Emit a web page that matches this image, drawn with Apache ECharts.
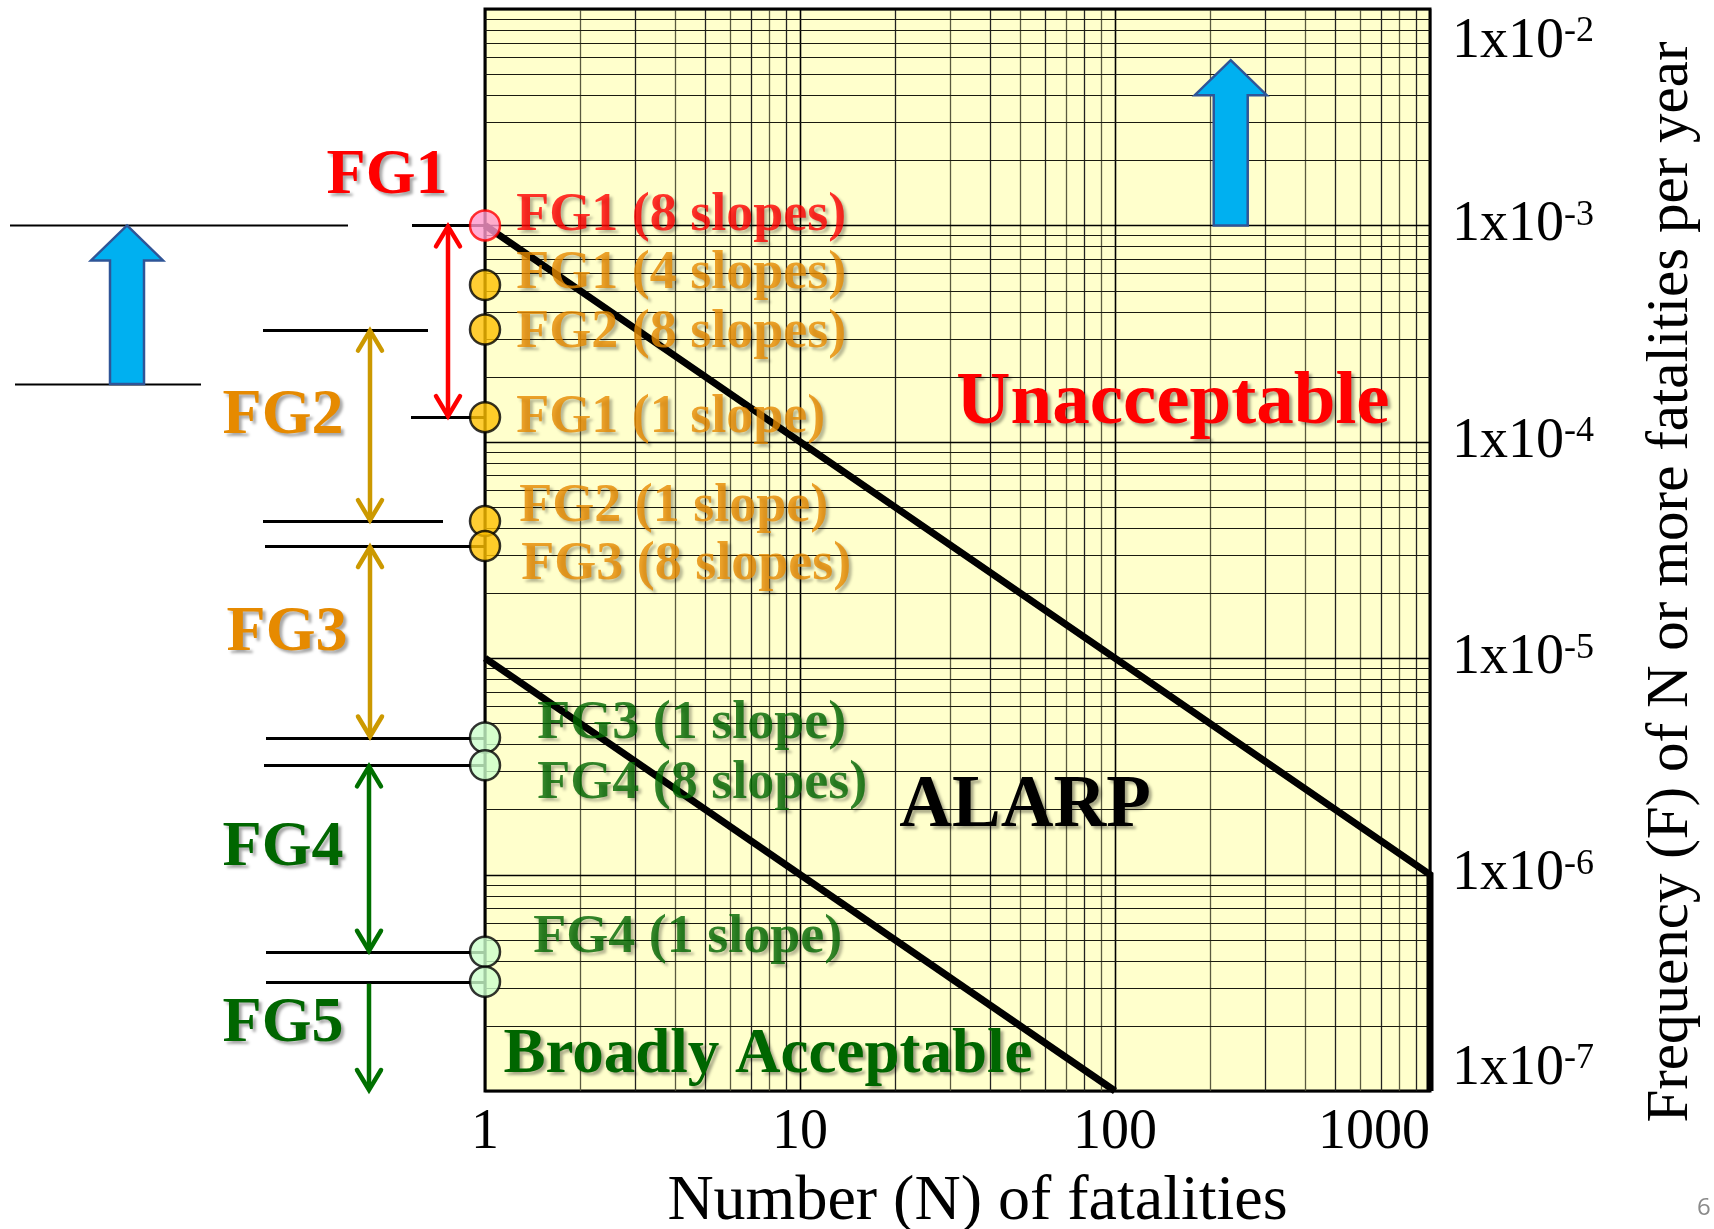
<!DOCTYPE html>
<html><head><meta charset="utf-8">
<script src="https://cdn.jsdelivr.net/npm/echarts@6/dist/echarts.min.js"></script>
<style>html,body{margin:0;padding:0;background:#fff;}#c{width:1714px;height:1229px;}</style>
</head><body><div id="c"></div>
<script>
// ---------------- data ----------------
const xTickValues = [1, 10, 100, 1000];
const yTickValues = [1e-7, 1e-6, 1e-5, 1e-4, 1e-3, 1e-2];
const minorSteps = [2, 3, 4, 5, 6, 7, 8, 9];           // log-paper sub-divisions
const unacceptableN = [1, 1000, 1000];
const unacceptableF = [1e-3, 1e-6, 1e-7];
const broadlyN = [1, 100];
const broadlyF = [1e-5, 1e-7];
const targetNames = ['FG1 (8 slopes)', 'FG1 (4 slopes)', 'FG2 (8 slopes)', 'FG1 (1 slope)', 'FG2 (1 slope)',
                     'FG3 (8 slopes)', 'FG3 (1 slope)', 'FG4 (8 slopes)', 'FG4 (1 slope)', 'FG5 (8 slopes)'];
const targetN = [1, 1, 1, 1, 1, 1, 1, 1, 1, 1];
const targetF = [1e-3, 5.3e-4, 3.3e-4, 1.3e-4, 4.3e-5, 3.3e-5, 4.3e-6, 3.2e-6, 4.4e-7, 3.2e-7];
const bandNames = ['FG1', 'FG2', 'FG3', 'FG4', 'FG5'];
const bandTopF = [1e-3, 3.3e-4, 3.3e-5, 3.2e-6, 3.2e-7];
const bandBottomF = [1.3e-4, 4.3e-5, 4.3e-6, 4.4e-7, 1e-7];
const leftLineF = [1e-3, 1.85e-4, 1e-3, 3.3e-4, 1.3e-4, 4.3e-5, 3.3e-5, 4.3e-6, 3.2e-6, 4.4e-7, 3.2e-7];
const leftArrowF = [1.85e-4, 1e-3];     // base, tip
const rightArrowN = 233;
const rightArrowF = [1e-3, 5.8e-3];     // base, tip
const zoneNames = ['Unacceptable', 'ALARP', 'Broadly Acceptable'];

// ---------------- layout / style ----------------
const SERIF = "'Liberation Serif','Times New Roman',serif";
const RED = '#ff0000', ORANGE = '#e68a00', GREEN = '#006600', GOLD = '#cc9900', DGREEN = '#007000';
const targetGroup = [0, 1, 1, 1, 1, 1, 2, 2, 2, 2];
const groupFill = ['#ff99cc', '#ffc000', '#ccffcc'];
const groupBorder = ['#ff0000', '#000000', '#000000'];
const groupText = [RED, ORANGE, GREEN];
const targetLabelOffset = [[15, -9], [15, -11], [15, 3], [15, 1], [18, -14], [20, 19], [36, -13], [36, 19], [32, -14], [0, 0]];
const leftLineSpan = [[10, 348], [15, 201], [412, 485], [263, 428], [411, 485], [263, 443], [265, 485], [266, 485], [264, 485], [266, 485], [266, 485]];
const leftLineWidth = [1.8, 1.8, 3, 3, 3, 3, 3, 3, 3, 3, 3];
const bandArrowX = [448, 370, 370, 369, 369];
const bandArrowColor = [RED, GOLD, GOLD, DGREEN, DGREEN];
const bandArrowTopHead = [1, 1, 1, 1, 0];
const bandLabelColor = [RED, ORANGE, ORANGE, GREEN, GREEN];
const bandLabelPos = [[387, 176], [283, 416], [287, 633], [283, 848], [283, 1024]];
const leftArrowX = 127;

const shadow = { textShadowColor: 'rgba(0,0,0,0.35)', textShadowBlur: 3, textShadowOffsetX: 3, textShadowOffsetY: 3 };

// grid-line values of the log paper
const vGrid = [], hGrid = [];
xTickValues.forEach((d, i) => {
  vGrid.push([d, yTickValues[0], 1]);
  if (i < xTickValues.length - 1) minorSteps.forEach(m => vGrid.push([d * m, yTickValues[0], 0]));
});
yTickValues.forEach((d, i) => {
  hGrid.push([xTickValues[0], d, 1]);
  if (i < yTickValues.length - 1) minorSteps.forEach(m => hGrid.push([xTickValues[0], d * m, 0]));
});

const chart = echarts.init(document.getElementById('c'));
const yMin = yTickValues[0], yMax = yTickValues[yTickValues.length - 1];
const xMin = xTickValues[0], xMax = xTickValues[xTickValues.length - 1];

function px(v) { return Math.round(v) + 0.5; }

function renderV(params, api) {
  const n = api.value(0), major = api.value(2);
  const a = api.coord([n, yMin]), b = api.coord([n, yMax]);
  const x = px(a[0]);
  return { type: 'line', shape: { x1: x, y1: a[1], x2: x, y2: b[1] },
    style: { stroke: major ? '#000' : (params.dataIndex % 2 ? '#5a5a40' : '#222'), lineWidth: major ? 1.6 : 1.3 } };
}
function renderH(params, api) {
  const f = api.value(1), major = api.value(2);
  const a = api.coord([xMin, f]), b = api.coord([xMax, f]);
  const y = px(a[1]);
  return { type: 'line', shape: { x1: a[0], y1: y, x2: b[0], y2: y },
    style: { stroke: major ? '#000' : '#1a1a10', lineWidth: major ? 1.6 : 1.2 } };
}
function blockArrow(x, yTip, yBase) {
  const hl = 35, hw = 36, sw = 17;
  return { type: 'polygon', shape: { points: [[x, yTip], [x + hw, yTip + hl], [x + sw, yTip + hl], [x + sw, yBase],
    [x - sw, yBase], [x - sw, yTip + hl], [x - hw, yTip + hl]] },
    style: { fill: '#00b0f0', stroke: '#2f5597', lineWidth: 2.5 } };
}
function renderLeftLines(params, api) {
  const i = params.dataIndex;
  const a = api.coord([api.value(0), api.value(2)]), b = api.coord([api.value(1), api.value(2)]);
  return { type: 'line', shape: { x1: a[0], y1: px(a[1]), x2: b[0], y2: px(a[1]) },
    style: { stroke: '#000', lineWidth: leftLineWidth[i] } };
}
function renderBandArrows(params, api) {
  const i = params.dataIndex;
  const t = api.coord([api.value(0), api.value(1)]), b = api.coord([api.value(0), api.value(2)]);
  const col = bandArrowColor[i], hw = 12, hl = 21, lw = 4.5;
  const st = { stroke: col, lineWidth: lw, fill: null, lineCap: 'round', lineJoin: 'miter' };
  const ch = [{ type: 'line', shape: { x1: t[0], y1: t[1] + 2, x2: b[0], y2: b[1] - 2 }, style: { stroke: col, lineWidth: lw } },
    { type: 'polyline', shape: { points: [[b[0] - hw, b[1] - hl], [b[0], b[1] - 1], [b[0] + hw, b[1] - hl]] }, style: st }];
  if (bandArrowTopHead[i]) ch.push({ type: 'polyline', shape: { points: [[t[0] - hw, t[1] + hl], [t[0], t[1] + 1], [t[0] + hw, t[1] + hl]] }, style: st });
  return { type: 'group', children: ch };
}
function renderLeftBlock(params, api) {
  const base = api.coord([api.value(0), api.value(1)]), tip = api.coord([api.value(0), api.value(2)]);
  return blockArrow(base[0], tip[1], base[1]);
}

const targetData = targetF.map((f, i) => {
  const g = targetGroup[i];
  return {
    name: targetNames[i], value: [targetN[i], f],
    itemStyle: { color: groupFill[g], borderColor: groupBorder[g], borderWidth: 2.5 },
    label: { show: i < targetF.length - 1, position: 'right', distance: 0, offset: targetLabelOffset[i],
      formatter: '{b}', color: groupText[g], fontFamily: SERIF, fontWeight: 'bold', fontSize: 54, ...shadow }
  };
});

const graphics = bandNames.map((n, i) => ({
  type: 'text', x: bandLabelPos[i][0], y: bandLabelPos[i][1], z: 50,
  style: { text: n, fill: bandLabelColor[i], fontFamily: SERIF, fontWeight: 'bold', fontSize: 64,
    align: 'center', verticalAlign: 'middle', ...shadow }
}));
graphics.push(
  { type: 'text', x: 1173, y: 404, z: 50, style: { text: zoneNames[0], fill: RED, fontFamily: SERIF, fontWeight: 'bold', fontSize: 75, align: 'center', verticalAlign: 'middle', ...shadow } },
  { type: 'text', x: 1025, y: 807, z: 50, style: { text: zoneNames[1], fill: '#000', fontFamily: SERIF, fontWeight: 'bold', fontSize: 73, align: 'center', verticalAlign: 'middle', ...shadow } },
  { type: 'text', x: 768, y: 1056, z: 50, style: { text: zoneNames[2], fill: GREEN, fontFamily: SERIF, fontWeight: 'bold', fontSize: 63, align: 'center', verticalAlign: 'middle', ...shadow } },
  { type: 'text', x: 1697, y: 1208, z: 50, style: { text: '6', fill: '#8a8a8a', fontFamily: "'Open Sans',sans-serif", fontSize: 24, align: 'left', verticalAlign: 'middle' } }
);

function yLabel(v) {
  const e = Math.round(Math.log10(v));
  const top = Math.round(Math.log10(yMax)), bot = Math.round(Math.log10(yMin));
  if (e === top) return '{bt|1x10}{st|' + e + '}';
  if (e === bot) return '{bb|1x10}{s|' + e + '}';
  return '{b|1x10}{s|' + e + '}';
}

chart.setOption({
  animation: false,
  backgroundColor: '#fff',
  grid: [
    { left: 485, right: 284, top: 9, bottom: 138, show: true, backgroundColor: '#ffffcc', borderColor: '#000', borderWidth: 3, containLabel: false, outerBoundsMode: 'none' },
    { left: 0, width: 485, top: 9, bottom: 138, show: false, containLabel: false, outerBoundsMode: 'none' }
  ],
  xAxis: [
    { type: 'log', logBase: 10, min: xMin, max: xMax, gridIndex: 0,
      axisLine: { show: false }, axisTick: { show: false }, splitLine: { show: false }, minorSplitLine: { show: false },
      axisLabel: { fontFamily: SERIF, fontSize: 56, color: '#000', margin: 14, alignMaxLabel: 'right',
        formatter: v => String(Math.round(v)) },
      name: 'Number (N) of fatalities', nameLocation: 'middle', nameGap: 79,
      nameTextStyle: { fontFamily: SERIF, fontSize: 64, color: '#000', padding: [0, 0, 0, 40] } },
    { type: 'value', min: 0, max: 485, gridIndex: 1, show: false }
  ],
  yAxis: [
    { type: 'log', logBase: 10, min: yMin, max: yMax, gridIndex: 0, position: 'right',
      axisLine: { show: false }, axisTick: { show: false }, splitLine: { show: false },
      axisLabel: { margin: 22, verticalAlign: 'middle',
        formatter: yLabel,
        rich: { b: { fontFamily: SERIF, fontSize: 56, color: '#000' },
                s: { fontFamily: SERIF, fontSize: 36, color: '#000', verticalAlign: 'top' },
                bt: { fontFamily: SERIF, fontSize: 56, color: '#000', padding: [66, 0, 0, 0] },
                st: { fontFamily: SERIF, fontSize: 36, color: '#000', verticalAlign: 'top', padding: [66, 0, 0, 0] },
                bb: { fontFamily: SERIF, fontSize: 56, color: '#000', padding: [0, 0, 44, 0] } } },
      name: 'Frequency (F) of N or more fatalities per year', nameLocation: 'middle', nameRotate: 90, nameGap: 212,
      nameTextStyle: { fontFamily: SERIF, fontSize: 59, color: '#000', padding: [0, 64, 0, 0] } },
    { type: 'log', logBase: 10, min: yMin, max: yMax, gridIndex: 1, show: false }
  ],
  graphic: graphics,
  series: [
    { type: 'custom', name: 'vgrid', xAxisIndex: 0, yAxisIndex: 0, z: 1, silent: true, clip: false,
      data: vGrid, encode: { x: 0, y: 1 }, renderItem: renderV },
    { type: 'custom', name: 'hgrid', xAxisIndex: 0, yAxisIndex: 0, z: 1, silent: true, clip: false,
      data: hGrid, encode: { x: 0, y: 1 }, renderItem: renderH },
    { type: 'line', name: 'Unacceptable limit', xAxisIndex: 0, yAxisIndex: 0, z: 5, clip: false, showSymbol: false, symbol: 'none',
      data: unacceptableN.map((n, i) => [n, unacceptableF[i]]), lineStyle: { color: '#000', width: 7, join: 'miter' } },
    { type: 'line', name: 'Broadly acceptable limit', xAxisIndex: 0, yAxisIndex: 0, z: 5, clip: false, showSymbol: false, symbol: 'none',
      data: broadlyN.map((n, i) => [n, broadlyF[i]]), lineStyle: { color: '#000', width: 7 } },
    { type: 'custom', name: 'up arrow', xAxisIndex: 0, yAxisIndex: 0, z: 6, clip: false,
      data: [[rightArrowN, rightArrowF[0], rightArrowF[1]]], encode: { x: 0, y: 1 }, renderItem: renderLeftBlock },
    { type: 'scatter', name: 'targets', xAxisIndex: 0, yAxisIndex: 0, z: 10, clip: false, symbol: 'circle', symbolSize: 30,
      data: targetData },
    { type: 'custom', name: 'left lines', xAxisIndex: 1, yAxisIndex: 1, z: 4, clip: false,
      data: leftLineF.map((f, i) => [leftLineSpan[i][0], leftLineSpan[i][1], f]), encode: { x: 0, y: 2 }, renderItem: renderLeftLines },
    { type: 'custom', name: 'band arrows', xAxisIndex: 1, yAxisIndex: 1, z: 6, clip: false,
      data: bandTopF.map((f, i) => [bandArrowX[i], f, bandBottomF[i]]), encode: { x: 0, y: 1 }, renderItem: renderBandArrows },
    { type: 'custom', name: 'left up arrow', xAxisIndex: 1, yAxisIndex: 1, z: 6, clip: false,
      data: [[leftArrowX, leftArrowF[0], leftArrowF[1]]], encode: { x: 0, y: 1 }, renderItem: renderLeftBlock }
  ]
});
</script></body></html>
